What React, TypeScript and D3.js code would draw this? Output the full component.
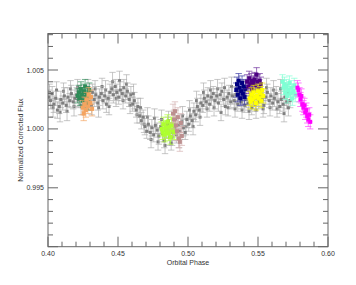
import * as d3 from 'd3';

// [phase, flux, error]
const grayPoints: [number, number, number][] = [
  [0.4005, 1.0027, 0.0006], [0.4018, 1.0024, 0.0007], [0.4030, 1.0030, 0.0006], [0.4042, 1.0021, 0.0007],
  [0.4055, 1.0026, 0.0006], [0.4067, 1.0016, 0.0007], [0.4080, 1.0019, 0.0006], [0.4092, 1.0025, 0.0007],
  [0.4105, 1.0022, 0.0006], [0.4117, 1.0028, 0.0007], [0.4130, 1.0020, 0.0006], [0.4142, 1.0027, 0.0008],
  [0.4155, 1.0024, 0.0006], [0.4167, 1.0030, 0.0007], [0.4180, 1.0023, 0.0006], [0.4192, 1.0026, 0.0007],
  [0.4205, 1.0029, 0.0006], [0.4217, 1.0025, 0.0007], [0.4230, 1.0031, 0.0006], [0.4242, 1.0027, 0.0007],
  [0.4255, 1.0024, 0.0006], [0.4267, 1.0028, 0.0007], [0.4280, 1.0030, 0.0006], [0.4292, 1.0023, 0.0007],
  [0.4305, 1.0027, 0.0006], [0.4317, 1.0031, 0.0007], [0.4330, 1.0025, 0.0006], [0.4342, 1.0029, 0.0007],
  [0.4355, 1.0022, 0.0006], [0.4367, 1.0027, 0.0007], [0.4380, 1.0030, 0.0006], [0.4392, 1.0024, 0.0007],
  [0.4405, 1.0028, 0.0006], [0.4417, 1.0021, 0.0007], [0.4430, 1.0026, 0.0006], [0.4442, 1.0031, 0.0007],
  [0.4455, 1.0034, 0.0006], [0.4467, 1.0029, 0.0007], [0.4480, 1.0036, 0.0006], [0.4492, 1.0031, 0.0007],
  [0.4505, 1.0027, 0.0006], [0.4517, 1.0033, 0.0007], [0.4530, 1.0030, 0.0006], [0.4542, 1.0035, 0.0007],
  [0.4555, 1.0028, 0.0006], [0.4567, 1.0032, 0.0007], [0.4580, 1.0025, 0.0006], [0.4592, 1.0029, 0.0007],
  [0.4605, 1.0021, 0.0006], [0.4617, 1.0024, 0.0007], [0.4630, 1.0016, 0.0006], [0.4642, 1.0019, 0.0007],
  [0.4655, 1.0011, 0.0006], [0.4667, 1.0007, 0.0007], [0.4680, 1.0010, 0.0006], [0.4692, 1.0002, 0.0007],
  [0.4705, 0.9998, 0.0006], [0.4717, 1.0004, 0.0007], [0.4730, 0.9997, 0.0006], [0.4742, 1.0001, 0.0007],
  [0.4755, 0.9995, 0.0006], [0.4767, 1.0003, 0.0007], [0.4780, 0.9999, 0.0006], [0.4792, 0.9994, 0.0007],
  [0.4805, 1.0002, 0.0006], [0.4817, 0.9996, 0.0007], [0.4830, 0.9990, 0.0006], [0.4842, 0.9999, 0.0007],
  [0.4855, 1.0004, 0.0006], [0.4867, 0.9993, 0.0007], [0.4880, 0.9988, 0.0006], [0.4892, 0.9997, 0.0007],
  [0.4905, 1.0001, 0.0006], [0.4917, 0.9995, 0.0007], [0.4930, 1.0003, 0.0006], [0.4942, 0.9998, 0.0007],
  [0.4955, 1.0006, 0.0006], [0.4967, 1.0001, 0.0007], [0.4980, 0.9997, 0.0006], [0.4992, 1.0008, 0.0007],
  [0.5005, 1.0004, 0.0006], [0.5017, 1.0011, 0.0007], [0.5030, 1.0007, 0.0006], [0.5042, 1.0015, 0.0007],
  [0.5055, 1.0012, 0.0006], [0.5067, 1.0019, 0.0007], [0.5080, 1.0016, 0.0006], [0.5092, 1.0022, 0.0007],
  [0.5105, 1.0020, 0.0006], [0.5117, 1.0026, 0.0007], [0.5130, 1.0023, 0.0006], [0.5142, 1.0028, 0.0007],
  [0.5155, 1.0021, 0.0006], [0.5167, 1.0027, 0.0007], [0.5180, 1.0030, 0.0006], [0.5192, 1.0024, 0.0007],
  [0.5205, 1.0028, 0.0006], [0.5217, 1.0022, 0.0007], [0.5230, 1.0029, 0.0006], [0.5242, 1.0032, 0.0007],
  [0.5255, 1.0025, 0.0006], [0.5267, 1.0019, 0.0007], [0.5280, 1.0027, 0.0006], [0.5292, 1.0030, 0.0007],
  [0.5305, 1.0023, 0.0006], [0.5317, 1.0028, 0.0007], [0.5330, 1.0024, 0.0006], [0.5342, 1.0029, 0.0007],
  [0.5355, 1.0021, 0.0006], [0.5367, 1.0026, 0.0007], [0.5380, 1.0023, 0.0006], [0.5392, 1.0028, 0.0007],
  [0.5405, 1.0020, 0.0006], [0.5417, 1.0025, 0.0007], [0.5430, 1.0022, 0.0006], [0.5442, 1.0027, 0.0007],
  [0.5455, 1.0018, 0.0006], [0.5467, 1.0024, 0.0007], [0.5480, 1.0021, 0.0006], [0.5492, 1.0026, 0.0007],
  [0.5505, 1.0023, 0.0006], [0.5517, 1.0029, 0.0007], [0.5530, 1.0025, 0.0006], [0.5542, 1.0020, 0.0007],
  [0.5555, 1.0027, 0.0006], [0.5567, 1.0031, 0.0007], [0.5580, 1.0024, 0.0006], [0.5592, 1.0028, 0.0007],
  [0.5605, 1.0022, 0.0006], [0.5617, 1.0026, 0.0007], [0.5630, 1.0030, 0.0006], [0.5642, 1.0023, 0.0007],
  [0.5655, 1.0019, 0.0006], [0.5667, 1.0025, 0.0007], [0.5680, 1.0021, 0.0006], [0.5692, 1.0027, 0.0007],
  [0.5705, 1.0023, 0.0006], [0.5717, 1.0018, 0.0007], [0.5730, 1.0024, 0.0006],
];

// second, interleaved set of gray measurements with wider scatter
const grayPoints2: [number, number, number][] = [
  [0.4011, 1.0031, 0.0007], [0.4036, 1.0018, 0.0008], [0.4061, 1.0033, 0.0007], [0.4086, 1.0014, 0.0008],
  [0.4111, 1.0032, 0.0007], [0.4136, 1.0015, 0.0008], [0.4161, 1.0034, 0.0007], [0.4186, 1.0019, 0.0008],
  [0.4211, 1.0035, 0.0007], [0.4236, 1.0020, 0.0008], [0.4286, 1.0035, 0.0007], [0.4311, 1.0020, 0.0008],
  [0.4336, 1.0034, 0.0007], [0.4361, 1.0018, 0.0008], [0.4386, 1.0036, 0.0007], [0.4411, 1.0033, 0.0008],
  [0.4436, 1.0019, 0.0007], [0.4461, 1.0040, 0.0008], [0.4486, 1.0026, 0.0007], [0.4511, 1.0041, 0.0008],
  [0.4536, 1.0024, 0.0007], [0.4561, 1.0038, 0.0008], [0.4586, 1.0020, 0.0007], [0.4611, 1.0030, 0.0008],
  [0.4636, 1.0012, 0.0007], [0.4661, 1.0018, 0.0008], [0.4686, 1.0004, 0.0007], [0.4711, 1.0010, 0.0008],
  [0.4736, 0.9991, 0.0007], [0.4761, 1.0009, 0.0008], [0.4786, 0.9989, 0.0007], [0.4811, 1.0008, 0.0008],
  [0.4836, 0.9986, 0.0007], [0.4861, 1.0007, 0.0008], [0.4886, 0.9993, 0.0007], [0.4911, 1.0008, 0.0008],
  [0.4936, 0.9991, 0.0007], [0.4961, 1.0011, 0.0008], [0.4986, 1.0002, 0.0007], [0.5011, 1.0016, 0.0008],
  [0.5036, 1.0002, 0.0007], [0.5061, 1.0024, 0.0008], [0.5086, 1.0010, 0.0007], [0.5111, 1.0031, 0.0008],
  [0.5136, 1.0017, 0.0007], [0.5161, 1.0033, 0.0008], [0.5186, 1.0018, 0.0007], [0.5211, 1.0034, 0.0008],
  [0.5236, 1.0014, 0.0007], [0.5261, 1.0035, 0.0008], [0.5286, 1.0018, 0.0007], [0.5311, 1.0036, 0.0008],
  [0.5336, 1.0017, 0.0007], [0.5361, 1.0032, 0.0008], [0.5386, 1.0016, 0.0007], [0.5411, 1.0033, 0.0008],
  [0.5436, 1.0015, 0.0007], [0.5461, 1.0031, 0.0008], [0.5486, 1.0016, 0.0007], [0.5511, 1.0034, 0.0008],
  [0.5536, 1.0017, 0.0007], [0.5561, 1.0035, 0.0008], [0.5586, 1.0018, 0.0007], [0.5611, 1.0033, 0.0008],
  [0.5636, 1.0017, 0.0007], [0.5661, 1.0034, 0.0008], [0.5686, 1.0013, 0.0007], [0.5711, 1.0030, 0.0008],
];

const greenPoints: [number, number, number][] = [
  [0.4212, 1.0028, 0.0006], [0.4220, 1.0031, 0.0006], [0.4228, 1.0026, 0.0006], [0.4235, 1.0034, 0.0006],
  [0.4242, 1.0029, 0.0006], [0.4250, 1.0024, 0.0006], [0.4257, 1.0032, 0.0006], [0.4265, 1.0036, 0.0006],
  [0.4272, 1.0027, 0.0006], [0.4280, 1.0030, 0.0006], [0.4287, 1.0022, 0.0006], [0.4295, 1.0033, 0.0006],
];

const orangePoints: [number, number, number][] = [
  [0.4248, 1.0018, 0.0006], [0.4255, 1.0013, 0.0006], [0.4262, 1.0021, 0.0006], [0.4270, 1.0016, 0.0006],
  [0.4277, 1.0025, 0.0006], [0.4285, 1.0019, 0.0006], [0.4292, 1.0029, 0.0006], [0.4300, 1.0022, 0.0006],
  [0.4307, 1.0027, 0.0006], [0.4315, 1.0017, 0.0006],
];

const limePoints: [number, number, number][] = [
  [0.4812, 1.0000, 0.0006], [0.4819, 0.9997, 0.0006], [0.4826, 1.0004, 0.0006], [0.4833, 0.9995, 0.0006],
  [0.4840, 1.0001, 0.0006], [0.4847, 0.9998, 0.0006], [0.4854, 1.0006, 0.0006], [0.4861, 0.9996, 0.0006],
  [0.4868, 1.0002, 0.0006], [0.4875, 0.9993, 0.0006], [0.4882, 1.0004, 0.0006], [0.4889, 0.9999, 0.0006],
  [0.4896, 1.0003, 0.0006], [0.4903, 0.9997, 0.0006],
];

const rosyPoints: [number, number, number][] = [
  [0.4893, 1.0013, 0.0008], [0.4900, 1.0008, 0.0008], [0.4907, 1.0015, 0.0008], [0.4914, 1.0003, 0.0008],
  [0.4921, 0.9998, 0.0008], [0.4928, 1.0010, 0.0008], [0.4935, 0.9992, 0.0008], [0.4942, 0.9989, 0.0008],
  [0.4949, 1.0005, 0.0008], [0.4956, 0.9994, 0.0008],
];

const navyPoints: [number, number, number][] = [
  [0.5345, 1.0033, 0.0006], [0.5350, 1.0038, 0.0006], [0.5356, 1.0029, 0.0006], [0.5362, 1.0041, 0.0006],
  [0.5368, 1.0035, 0.0006], [0.5374, 1.0026, 0.0006], [0.5380, 1.0032, 0.0006], [0.5386, 1.0039, 0.0006],
  [0.5392, 1.0030, 0.0006], [0.5398, 1.0036, 0.0006], [0.5404, 1.0027, 0.0006], [0.5410, 1.0034, 0.0006],
];

const purplePoints: [number, number, number][] = [
  [0.5422, 1.0040, 0.0006], [0.5430, 1.0036, 0.0006], [0.5437, 1.0043, 0.0006], [0.5445, 1.0038, 0.0006],
  [0.5452, 1.0041, 0.0006], [0.5460, 1.0034, 0.0006], [0.5467, 1.0039, 0.0006], [0.5475, 1.0042, 0.0006],
  [0.5482, 1.0037, 0.0006], [0.5490, 1.0046, 0.0006], [0.5497, 1.0040, 0.0006], [0.5505, 1.0035, 0.0006],
  [0.5512, 1.0041, 0.0006], [0.5520, 1.0038, 0.0006],
];

const yellowPoints: [number, number, number][] = [
  [0.5440, 1.0026, 0.0006], [0.5447, 1.0023, 0.0006], [0.5455, 1.0029, 0.0006], [0.5462, 1.0025, 0.0006],
  [0.5470, 1.0031, 0.0006], [0.5477, 1.0027, 0.0006], [0.5485, 1.0022, 0.0006], [0.5492, 1.0028, 0.0006],
  [0.5500, 1.0032, 0.0006], [0.5507, 1.0026, 0.0006], [0.5515, 1.0030, 0.0006], [0.5522, 1.0024, 0.0006],
  [0.5530, 1.0033, 0.0006], [0.5537, 1.0028, 0.0006],
];

const aquaPoints: [number, number, number][] = [
  [0.5675, 1.0040, 0.0006], [0.5682, 1.0035, 0.0006], [0.5689, 1.0038, 0.0006], [0.5696, 1.0031, 0.0006],
  [0.5703, 1.0036, 0.0006], [0.5710, 1.0028, 0.0006], [0.5717, 1.0033, 0.0006], [0.5724, 1.0039, 0.0006],
  [0.5731, 1.0030, 0.0006], [0.5738, 1.0035, 0.0006], [0.5745, 1.0026, 0.0006], [0.5752, 1.0032, 0.0006],
  [0.5759, 1.0037, 0.0006], [0.5766, 1.0029, 0.0006],
];

const magentaPoints: [number, number, number][] = [
  [0.5782, 1.0035, 0.0006], [0.5789, 1.0033, 0.0006], [0.5796, 1.0029, 0.0006], [0.5803, 1.0025, 0.0006],
  [0.5810, 1.0028, 0.0006], [0.5817, 1.0021, 0.0006], [0.5824, 1.0018, 0.0006], [0.5831, 1.0020, 0.0006],
  [0.5838, 1.0014, 0.0006], [0.5845, 1.0016, 0.0006], [0.5852, 1.0011, 0.0006], [0.5859, 1.0008, 0.0006],
  [0.5866, 1.0012, 0.0006], [0.5873, 1.0006, 0.0006],
];

const xTickLabels = ['0.40', '0.45', '0.50', '0.55', '0.60'];
const yTickLabels = ['0.995', '1.000', '1.005'];

const series = [
  { pts: grayPoints2, color: '#7f7f7f', bar: '#acacac', size: 3 },
  { pts: grayPoints, color: '#7f7f7f', bar: '#acacac', size: 3 },
  { pts: greenPoints, color: '#2e8b57', bar: '#2e8b57', size: 4 },
  { pts: orangePoints, color: '#f4a460', bar: '#f4a460', size: 4 },
  { pts: limePoints, color: '#adff2f', bar: '#adff2f', size: 4 },
  { pts: rosyPoints, color: '#bc8f8f', bar: '#d4b0b0', size: 4 },
  { pts: navyPoints, color: '#000080', bar: '#3030a0', size: 4 },
  { pts: purplePoints, color: '#4b0082', bar: '#6a2a9a', size: 4 },
  { pts: yellowPoints, color: '#ffff00', bar: '#f0f000', size: 4 },
  { pts: aquaPoints, color: '#7fffd4', bar: '#7fffd4', size: 4 },
  { pts: magentaPoints, color: '#ff00ff', bar: '#ff40ff', size: 4 },
];

export default function App() {
  const width = 356;
  const height = 285;
  const left = 48, right = 328, top = 33.5, bottom = 246.7;

  const x = d3.scaleLinear().domain([0.4, 0.6]).range([left, right]);
  const y = d3.scaleLinear().domain([0.99, 1.0081]).range([bottom, top]);

  const xMinor = d3.range(0.4, 0.6001, 0.01);
  const yMinor = d3.range(0.99, 1.0081, 0.001);
  const axisColor = '#666';
  const font = 'Liberation Sans, Arial, sans-serif';

  return (
    <div style={{ position: 'absolute', left: 0, top: 0 }}>
      <svg width={width} height={height} style={{ display: 'block', background: '#fff' }}>
        <defs>
          <clipPath id="plot">
            <rect x={left} y={top} width={right - left} height={bottom - top} />
          </clipPath>
        </defs>

        <g clipPath="url(#plot)">
          {series.map((s, si) => (
            <g key={si}>
              {s.pts.map(([p, f, e], i) => {
                const cx = x(p);
                return (
                  <g key={i} stroke={s.bar} strokeWidth={0.8} strokeOpacity={0.85}>
                    <line x1={cx} x2={cx} y1={y(f - e)} y2={y(f + e)} />
                    <line x1={cx - 3.2} x2={cx + 3.2} y1={y(f - e)} y2={y(f - e)} />
                    <line x1={cx - 3.2} x2={cx + 3.2} y1={y(f + e)} y2={y(f + e)} />
                  </g>
                );
              })}
              {s.pts.map(([p, f], i) => (
                <rect key={i} x={x(p) - s.size / 2} y={y(f) - s.size / 2}
                  width={s.size} height={s.size} fill={s.color} />
              ))}
            </g>
          ))}
        </g>

        {/* frame */}
        <rect x={left} y={top} width={right - left} height={bottom - top}
          fill="none" stroke={axisColor} strokeWidth={1} />

        {/* x ticks */}
        {xMinor.map((v, i) => {
          const major = i % 5 === 0;
          const len = major ? 10 : 5;
          return (
            <g key={i} stroke={axisColor} strokeWidth={1}>
              <line x1={x(v)} x2={x(v)} y1={bottom} y2={bottom - len} />
              <line x1={x(v)} x2={x(v)} y1={top} y2={top + len} />
            </g>
          );
        })}
        {xTickLabels.map((t) => (
          <text key={t} x={x(+t)} y={bottom + 9.5} fontSize={7} fontFamily={font}
            textAnchor="middle" fill="#333">{t}</text>
        ))}

        {/* y ticks */}
        {yMinor.map((v, i) => {
          const major = i % 5 === 0;
          const len = major ? 10 : 5;
          return (
            <g key={i} stroke={axisColor} strokeWidth={1}>
              <line x1={left} x2={left + len} y1={y(v)} y2={y(v)} />
              <line x1={right} x2={right - len} y1={y(v)} y2={y(v)} />
            </g>
          );
        })}
        {yTickLabels.map((t) => (
          <text key={t} x={left - 4} y={y(+t) + 2.5} fontSize={7} fontFamily={font}
            textAnchor="end" fill="#333">{t}</text>
        ))}

        <text x={(left + right) / 2} y={bottom + 18} fontSize={7} fontFamily={font}
          textAnchor="middle" fill="#333">Orbital Phase</text>
        <text transform={`translate(${left - 25},${(top + bottom) / 2}) rotate(-90)`}
          fontSize={7} fontFamily={font} textAnchor="middle" fill="#333">
          Normalized Corrected Flux
        </text>
      </svg>
    </div>
  );
}
